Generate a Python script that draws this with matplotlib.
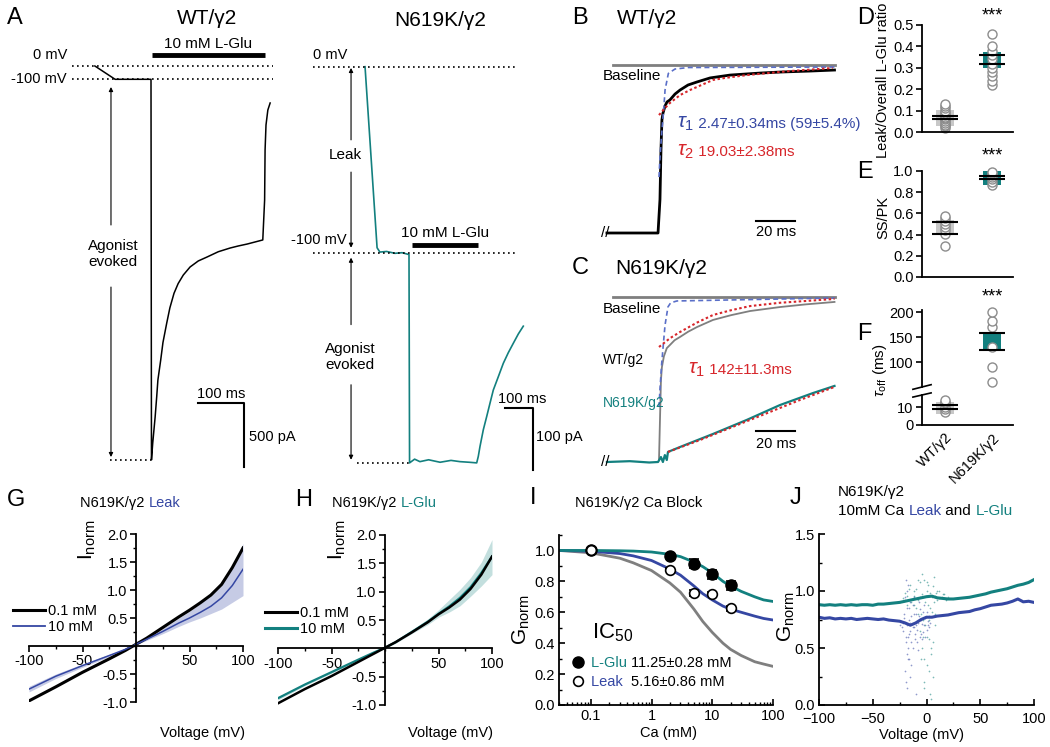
import matplotlib
matplotlib.use('Agg')
import matplotlib.pyplot as plt
from matplotlib.lines import Line2D

plt.rcParams['font.family'] = ['Liberation Sans', 'DejaVu Sans']
plt.rcParams['mathtext.fontset'] = 'custom'
plt.rcParams['mathtext.rm'] = 'Liberation Sans'
plt.rcParams['mathtext.it'] = 'Liberation Sans:italic'
plt.rcParams['mathtext.bf'] = 'Liberation Sans:bold'
plt.rcParams['axes.linewidth'] = 1.3

TEAL = '#13807f'
BLUE = '#3547a3'
RED = '#d7262b'
GBOX = '#c8c8c8'
GLINE = '#7f7f7f'

# ---------------- data ----------------
# A: WT/g2 trace (ms, pA)
wt_t = [-122, -78, 0, 1, 3.7, 9, 12.4, 15, 21.1, 26, 34.1, 41, 50, 59, 70.2, 85, 102.8, 122, 146.3,
        172, 189.8, 209, 226, 243, 247, 248, 250, 254, 259]
wt_i = [0, -104, -104, -3078, -2948, -2742, -2584, -2453, -2297, -2160, -2010, -1890, -1776, -1700,
        -1633, -1570, -1523, -1492, -1451, -1422, -1406, -1391, -1375, -1359, -1047, -656, -461, -344, -289]
wt_levels = [0, -104]
wt_peak = -3078
# A: N619K/g2 trace (ms, pA)
mut_t = [-157, -114, -104, -80, -50, -25, 0, 2, 20, 39, 70, 111, 150, 182, 215, 241.8, 247.5, 253.6,
         265.4, 277.5, 289.3, 301.1, 319, 336.8, 354.6, 372.5, 390.4, 408.2]
mut_i = [0, -292, -299, -298, -301, -300, -303, -639, -633, -637, -634, -638, -635, -637, -638, -639,
         -628.5, -612.4, -585.6, -564.2, -542.7, -521.5, -500, -478.4, -461.3, -446.1, -431.1, -418.5]
mut_levels = [0, -300]
mut_peak = -639

# B: WT/g2 normalized deactivation (ms, norm)
b_t = [-26.7, -0.5, 0.5, 1.0, 1.5, 2.05, 3.1, 4.1, 5.6, 8.2, 10.8, 14.9, 19.5, 26.2, 36.4, 51.8, 62, 77.4, 90]
b_i = [-1.0, -1.0, -0.80, -0.51, -0.327, -0.286, -0.244, -0.220, -0.208, -0.173, -0.149, -0.119,
       -0.101, -0.077, -0.060, -0.048, -0.042, -0.036, -0.030]
b_fit1_t = [0, 0.5, 1.4, 2.5, 3.1, 4.8, 8.2, 15, 90]
b_fit1_i = [-0.667, -0.55, -0.405, -0.25, -0.149, -0.05, -0.024, -0.015, -0.012]
b_fit2_t = [0, 3.1, 5.6, 10.8, 15.9, 27.7, 33.8, 45, 67.2, 89]
b_fit2_i = [-0.298, -0.256, -0.226, -0.179, -0.149, -0.089, -0.077, -0.060, -0.036, -0.018]
base_t = [-23.6, 90]

# C: N619K/g2 vs WT
c_wt_t = [0, 0.5, 1.0, 1.5, 2.5, 4, 5.6, 8, 10.8, 15, 19.5, 27.7, 37, 46.7, 62, 75, 90]
c_wt_i = [-0.988, -0.745, -0.503, -0.424, -0.36, -0.31, -0.291, -0.262, -0.242, -0.21, -0.182,
          -0.139, -0.11, -0.085, -0.061, -0.045, -0.030]
c_fit1_t = [0, 0.5, 1.4, 2.5, 3.1, 4.6, 6, 9.2, 90]
c_fit1_i = [-0.667, -0.56, -0.40, -0.25, -0.17, -0.06, -0.035, -0.024, -0.006]
c_fit2_t = [0, 5.6, 10.8, 19.5, 27.7, 37, 46.7, 62, 90]
c_fit2_i = [-0.303, -0.25, -0.212, -0.155, -0.109, -0.08, -0.055, -0.035, -0.012]
c_mut_t = [-26.7, -15, -5, -0.5, 1.0, 2.0, 3.0, 4.0, 4.6, 10.8, 27.7, 45, 62, 79, 90]
c_mut_i = [-1.0, -0.995, -1.003, -1.0, -0.97, -1.0, -0.958, -0.988, -0.939, -0.909, -0.830, -0.745,
           -0.655, -0.582, -0.539]
c_mfit_t = [4.6, 21, 46.7, 72.3, 90]
c_mfit_i = [-0.939, -0.867, -0.745, -0.624, -0.545]

# D, E, F
groups = ['WT/γ2', 'N619K/γ2']
D_wt = [0.02, 0.03, 0.035, 0.04, 0.05, 0.06, 0.065, 0.07, 0.08, 0.09, 0.10, 0.11, 0.12, 0.13]
D_mut = [0.22, 0.24, 0.26, 0.28, 0.30, 0.32, 0.34, 0.36, 0.38, 0.40, 0.46]
D_box = [(0.03, 0.105), (0.30, 0.375)]
D_sem = [(0.06, 0.075), (0.32, 0.36)]
E_wt = [0.29, 0.41, 0.44, 0.47, 0.50, 0.53, 0.56, 0.58]
E_mut = [0.87, 0.90, 0.92, 0.94, 0.96, 0.98, 0.99]
E_box = [(0.40, 0.54), (0.87, 1.0)]
E_sem = [(0.41, 0.515), (0.92, 0.95)]
F_wt = [7, 9, 10, 12, 13, 14]
F_mut = [60, 90, 130, 170, 182, 200]
F_box = [(6, 13), (125, 158)]
F_sem = [(9, 11), (125, 158)]

# G, H: I-V
iv_v = [-100, -75, -50, -25, -10, 0, 10, 25, 40, 50, 60, 70, 80, 90, 100]
g_low = [-0.98, -0.73, -0.47, -0.23, -0.08, 0.03, 0.14, 0.33, 0.52, 0.64, 0.77, 0.91, 1.10, 1.40, 1.75]
g_high = [-0.77, -0.54, -0.35, -0.17, -0.06, 0.03, 0.12, 0.26, 0.41, 0.50, 0.60, 0.71, 0.86, 1.08, 1.37]
g_high_up = [-0.72, -0.50, -0.32, -0.15, -0.05, 0.04, 0.14, 0.31, 0.50, 0.62, 0.76, 0.92, 1.13, 1.45, 1.83]
g_high_dn = [-0.82, -0.58, -0.38, -0.19, -0.07, 0.02, 0.10, 0.22, 0.35, 0.43, 0.50, 0.58, 0.66, 0.78, 0.90]
h_low = [-0.97, -0.72, -0.49, -0.24, -0.09, 0.01, 0.11, 0.28, 0.46, 0.60, 0.72, 0.86, 1.05, 1.30, 1.62]
h_high = [-0.88, -0.64, -0.42, -0.20, -0.07, 0.01, 0.11, 0.29, 0.47, 0.61, 0.74, 0.89, 1.08, 1.33, 1.62]
h_high_up = [-0.85, -0.62, -0.40, -0.19, -0.06, 0.02, 0.13, 0.32, 0.52, 0.68, 0.86, 1.04, 1.25, 1.52, 1.92]
h_high_dn = [-0.91, -0.66, -0.44, -0.21, -0.08, 0.00, 0.09, 0.26, 0.42, 0.55, 0.64, 0.75, 0.92, 1.10, 1.30]

# I: Ca block
ca = [0.1, 2, 5, 10, 20]
glu = [1.0, 0.965, 0.915, 0.845, 0.775]
glu_err = [0.0, 0.01, 0.03, 0.03, 0.03]
leak = [1.0, 0.875, 0.725, 0.72, 0.625]
leak_err = [0.0, 0.01, 0.02, 0.01, 0.015]
ca_fit = [0.03, 0.1, 0.3, 0.5, 1, 2, 3, 5, 7, 10, 15, 20, 30, 50, 70, 100]
fit_glu = [1.0, 1.0, 0.998, 0.996, 0.99, 0.975, 0.96, 0.925, 0.895, 0.855, 0.80, 0.77, 0.735, 0.70, 0.68, 0.67]
fit_leak = [1.0, 0.995, 0.98, 0.965, 0.935, 0.88, 0.84, 0.77, 0.72, 0.68, 0.64, 0.62, 0.60, 0.575, 0.56, 0.55]
fit_wt = [1.0, 0.985, 0.95, 0.92, 0.87, 0.79, 0.73, 0.62, 0.54, 0.47, 0.40, 0.36, 0.32, 0.28, 0.265, 0.25]

# J: G-V
j_v = [-100, -95, -90, -85, -80, -75, -70, -65, -60, -55, -50, -45, -40, -35, -30, -25, -20, -15, -10, -5,
       0, 5, 10, 15, 20, 25, 30, 35, 40, 45, 50, 55, 60, 65, 70, 75, 80, 85, 90, 95, 100]
j_leak = [0.77, 0.76, 0.765, 0.755, 0.76, 0.755, 0.76, 0.75, 0.755, 0.76, 0.755, 0.75, 0.755, 0.745, 0.74,
          0.735, 0.72, 0.70, 0.72, 0.75, 0.77, 0.77, 0.78, 0.785, 0.79, 0.80, 0.81, 0.815, 0.82, 0.835,
          0.845, 0.86, 0.875, 0.88, 0.885, 0.895, 0.91, 0.93, 0.905, 0.91, 0.90]
j_glu = [0.88, 0.875, 0.88, 0.875, 0.88, 0.875, 0.88, 0.875, 0.88, 0.88, 0.875, 0.885, 0.885, 0.89, 0.895,
         0.90, 0.91, 0.92, 0.93, 0.94, 0.95, 0.955, 0.94, 0.935, 0.93, 0.93, 0.935, 0.94, 0.945, 0.955,
         0.965, 0.975, 0.99, 1.0, 1.01, 1.02, 1.035, 1.05, 1.06, 1.075, 1.10]
js_leak_v = [-22, -21, -20, -20, -19, -19, -18, -18, -18, -17, -17, -16, -16, -15, -15, -14, -13, -12, -12, -11,
             -10, -10, -9, -8, -7, -6, -5, -4, -3, -2, -1, 0, 1, 2, 3, -25, -24, -23, -22, -21,
             -20, -19, -18, -17, -16, -15, -14, -13, -12, -11, -10, -9, -8, -7, -6, -5, -4, -3, -2, -1,
             0, 1, 2, -19, -18, -17, -16, -15, -14, -13]
js_leak_g = [0.65, 0.80, 0.30, 0.95, 0.55, 1.10, 0.15, 0.45, 0.70, 0.60, 1.05, 0.40, 0.85, 0.25, 0.65, 0.78,
             0.50, 0.95, 0.68, 0.62, 0.10, 0.80, 0.55, 0.72, 0.90, 0.60, 0.75, 0.58, 0.82, 0.70, 0.76, 0.66,
             0.74, 0.78, 0.72, 0.70, 0.74, 0.68, 0.72, 0.76,
             0.72, 0.60, 0.85, 0.50, 0.75, 0.90, 0.35, 0.68, 0.80, 0.58, 0.70, 0.66, 0.48, 0.78, 0.84, 0.62,
             0.71, 0.64, 0.88, 0.60, 0.82, 0.70, 0.68, 0.20, 1.00, 0.40, 0.62, 0.72, 0.55, 0.88]
js_glu_v = [-12, -10, -8, -6, -5, -4, -3, -2, -1, 0, 1, 2, 3, 4, 5, 6, 7, 8, 9, 10, 12, 14, 16, 18, -20, -18,
            -16, -14, -12, -8, -6, -4, -2, 0, 2, 4, 6, 8, 0, 3,
            -25, -22, -20, -18, -15, -12, -10, -8, -6, -5, -4, -3, -2, -1, 0, 1, 2, 3, 4, 5, 6, 7, 8, 10,
            12, 15, 18, 20, -2, 2]
js_glu_g = [1.00, 0.85, 1.10, 0.95, 0.40, 1.15, 0.75, 0.20, 0.90, 0.60, 1.05, 0.30, 0.85, 0.05, 0.95, 0.55,
            1.12, 0.70, 0.98, 0.92, 1.00, 0.95, 0.97, 0.93, 0.92, 0.96, 1.02, 0.90, 0.88, 0.80, 0.65, 0.50,
            0.15, 0.35, 0.00, 0.45, 0.25, 0.80, 1.08, 0.10,
            0.90, 0.94, 0.98, 0.88, 1.05, 0.96, 1.02, 0.92, 1.08, 0.80, 0.97, 0.60, 1.10, 0.70, 1.00, 0.88,
            0.75, 0.98, 0.50, 0.82, 1.04, 0.90, 0.96, 1.00, 0.94, 0.97, 0.92, 0.95, 0.40, 0.58]

# ---------------- figure ----------------
W, H = 1050, 747
fig = plt.figure(figsize=(W / 100, H / 100), dpi=100)
renderer = fig.canvas.get_renderer()


def box(l, t, r, b):
    return fig.add_axes([l / W, 1 - b / H, (r - l) / W, (b - t) / H])


def T(x, y, s, **kw):
    kw.setdefault('fontsize', 10.5)
    return fig.text(x / W, 1 - y / H, s, **kw)


def seg(x, y, parts, va='baseline'):
    cur = x
    for s, c, fs in parts:
        t = fig.text(cur / W, 1 - y / H, s, color=c, fontsize=fs, va=va, ha='left')
        cur += t.get_window_extent(renderer).width


def trace_axes(l, t, r, b, x0, y0, sx, sy):
    ax = box(l, t, r, b)
    ax.set_xlim((l - x0) / sx, (r - x0) / sx)
    ax.set_ylim(-(b - y0) / sy, -(t - y0) / sy)
    ax.axis('off')
    return ax


def arrow(ax, x, y0, y1):
    ax.annotate('', xy=(x, y1), xytext=(x, y0),
                arrowprops=dict(arrowstyle='-|>', lw=0.8, color='k', mutation_scale=6,
                                shrinkA=0, shrinkB=0))


DOT = (0, (1, 2))

# ---- panel A, WT ----
axA = trace_axes(50, 30, 290, 475, 151, 66, 0.46, 0.128)
axA.plot(wt_t, wt_i, color='k', lw=1.1)
axA.hlines(wt_levels, -172, 265, colors='k', linestyles=DOT, lw=1.2)
axA.hlines(wt_peak, -89, 0, colors='k', linestyles=DOT, lw=1.2)
axA.hlines(86, 2, 248, colors='k', lw=3.5)
axA.plot([102, 202, 202], [-2633, -2633, -3133], color='k', lw=1.5)
arrow(axA, -87, -1242, -164)
arrow(axA, -87, -1727, -3055)
T(113, 254, 'Agonist\nevoked', ha='center', va='center', fontsize=11, linespacing=1.15)
T(67, 55, '0 mV', ha='right', va='center')
T(67, 79, '-100 mV', ha='right', va='center')
T(208, 44, '10 mM L-Glu', ha='center', va='center', fontsize=11)
T(221, 394, '100 ms', ha='center', va='center')
T(249, 437, '500 pA', ha='left', va='center')
T(7, 18, 'A', fontsize=17, va='center')
T(207, 19, 'WT/γ2', fontsize=15, ha='center', va='center')

# ---- panel A, N619K ----
axN = trace_axes(280, 30, 560, 475, 409, 66.7, 0.28, 0.62)
axN.plot(mut_t, mut_i, color=TEAL, lw=1.2)
axN.hlines(mut_levels, -343, 389, colors='k', linestyles=DOT, lw=1.2)
axN.hlines(mut_peak, -186, 0, colors='k', linestyles=DOT, lw=1.2)
axN.hlines(-288, 11, 246, colors='k', lw=3.5)
axN.plot([343, 443, 443], [-551, -551, -651], color='k', lw=1.5)
arrow(axN, -207, -118, -2)
arrow(axN, -207, -170, -292)
arrow(axN, -207, -416, -308)
arrow(axN, -207, -513, -634)
T(345, 155, 'Leak', ha='center', va='center', fontsize=11)
T(350, 357, 'Agonist\nevoked', ha='center', va='center', fontsize=11, linespacing=1.15)
T(347, 55, '0 mV', ha='right', va='center')
T(347, 240, '-100 mV', ha='right', va='center')
T(445, 233, '10 mM L-Glu', ha='center', va='center', fontsize=11)
T(522, 399, '100 ms', ha='center', va='center')
T(536, 437, '100 pA', ha='left', va='center')
T(440, 20, 'N619K/γ2', fontsize=15, ha='center', va='center')

# ---- panel B ----
axB = trace_axes(595, 40, 850, 245, 659, 65, 1.95, 168)
axB.plot(base_t, [0, 0], color=GLINE, lw=2)
axB.plot(b_t, b_i, color='k', lw=2)
axB.plot(b_fit1_t, b_fit1_i, color='#5a6fc8', lw=1.2, ls=(0, (3, 2)))
axB.plot(b_fit2_t, b_fit2_i, color=RED, lw=1.5, ls=(0, (1.2, 1.2)))
axB.plot([49.7, 69.7], [-0.929, -0.929], color='k', lw=1.5)
T(776, 232, '20 ms', ha='center', va='center')
T(603, 76, 'Baseline', ha='left', va='center', fontsize=11)
T(601, 233, '//', ha='left', va='center', fontsize=11)
seg(677, 128, [(r'$\tau_1$', BLUE, 15), (' 2.47±0.34ms (59±5.4%)', BLUE, 11)])
seg(677, 156, [(r'$\tau_2$', RED, 15), (' 19.03±2.38ms', RED, 11)])
T(572, 18, 'B', fontsize=17, va='center')
T(617, 18, 'WT/γ2', fontsize=15, ha='left', va='center')

# ---- panel C ----
axC = trace_axes(595, 280, 850, 470, 659, 297, 1.95, 165)
axC.plot(base_t, [0, 0], color=GLINE, lw=2)
axC.plot(c_wt_t, c_wt_i, color=GLINE, lw=1.3)
axC.plot(c_fit1_t, c_fit1_i, color='#5a6fc8', lw=1.2, ls=(0, (3, 2)))
axC.plot(c_fit2_t, c_fit2_i, color=RED, lw=1.5, ls=(0, (1.2, 1.2)))
axC.plot(c_mut_t, c_mut_i, color=TEAL, lw=1.6)
axC.plot(c_mfit_t, c_mfit_i, color=RED, lw=1.5, ls=(0, (1.2, 1.2)))
axC.plot([49.7, 69.7], [-0.812, -0.812], color='k', lw=1.5)
T(776, 444, '20 ms', ha='center', va='center')
T(603, 309, 'Baseline', ha='left', va='center', fontsize=11)
T(603, 360, 'WT/g2', ha='left', va='center', fontsize=10)
T(603, 403, 'N619K/g2', ha='left', va='center', fontsize=10, color=TEAL)
T(601, 462, '//', ha='left', va='center', fontsize=11)
seg(688, 374, [(r'$\tau_1$', RED, 15), (' 142±11.3ms', RED, 11)])
T(572, 268, 'C', fontsize=17, va='center')
T(615, 269, 'N619K/γ2', fontsize=15, ha='left', va='center')


# ---- panels D, E, F ----
def dots(ax, sets, boxes, sems):
    cols = [GBOX, TEAL]
    for i, vals in enumerate(sets):
        if vals is None:
            continue
        lo, hi = boxes[i]
        ax.bar(i, hi - lo, bottom=lo, width=0.4, color=cols[i], zorder=1)
        ax.plot([i] * len(vals), vals, 'o', mfc='white', mec='#8c8c8c', ms=6.5, mew=1,
                zorder=2, clip_on=False)
        ax.hlines(sems[i], i - 0.27, i + 0.27, colors='k', lw=1.5, zorder=3)


def style_dot_ax(ax, ylim, yticks, labels):
    ax.set_xlim(-0.49, 1.45)
    ax.set_ylim(*ylim)
    ax.set_yticks(yticks)
    ax.set_yticklabels(labels)
    ax.spines['top'].set_visible(False)
    ax.spines['right'].set_visible(False)
    ax.set_xticks([])
    ax.tick_params(axis='y', direction='out', length=4, width=1.2, labelsize=10.5, pad=2)


axD = box(922, 25, 1013, 132)
dots(axD, [D_wt, D_mut], D_box, D_sem)
style_dot_ax(axD, (0, 0.5), [0, 0.1, 0.2, 0.3, 0.4, 0.5], ['0.0', '0.1', '0.2', '0.3', '0.4', '0.5'])
T(883, 80, 'Leak/Overall L-Glu ratio', rotation=90, ha='center', va='center', fontsize=10.5)
T(992, 16, '***', ha='center', va='center', fontsize=13)
T(857, 18, 'D', fontsize=17, va='center')

axE = box(922, 171, 1013, 277)
dots(axE, [E_wt, E_mut], E_box, E_sem)
style_dot_ax(axE, (0, 1.0), [0, 0.2, 0.4, 0.6, 0.8, 1.0], ['0.0', '0.2', '0.4', '0.6', '0.8', '1.0'])
T(883, 217, 'SS/PK', rotation=90, ha='center', va='center', fontsize=10.5)
T(992, 156, '***', ha='center', va='center', fontsize=13)
T(857, 172, 'E', fontsize=17, va='center')

axFu = box(922, 310, 1013, 387)
dots(axFu, [None, F_mut], F_box, F_sem)
style_dot_ax(axFu, (50, 204), [100, 150, 200], ['100', '150', '200'])
axFu.spines['bottom'].set_visible(False)
axFl = box(922, 395, 1013, 425)
dots(axFl, [F_wt, None], F_box, F_sem)
style_dot_ax(axFl, (0, 16.7), [0, 10], ['0', '10'])
axFl.set_xticks([0, 1])
axFl.set_xticklabels(groups, rotation=45, ha='right', rotation_mode='anchor', fontsize=10.5)
axFl.tick_params(axis='x', length=0, pad=4)
axFu.plot([-0.1, 0.1], [-0.03, 0.03], transform=axFu.transAxes, color='k', lw=1.2, clip_on=False)
axFl.plot([-0.1, 0.1], [0.93, 1.07], transform=axFl.transAxes, color='k', lw=1.2, clip_on=False)
T(880, 370, r'$\tau_{\rm off}$ (ms)', rotation=90, ha='center', va='center', fontsize=11)
T(992, 297, '***', ha='center', va='center', fontsize=13)
T(857, 334, 'F', fontsize=17, va='center')


# ---- panels G, H ----
def iv_axes(l, t, r, b):
    ax = box(l, t, r, b)
    ax.set_xlim(-100, 100)
    ax.set_ylim(-1, 2)
    ax.spines['left'].set_position(('data', 0))
    ax.spines['bottom'].set_position(('data', 0))
    ax.spines['top'].set_visible(False)
    ax.spines['right'].set_visible(False)
    ax.set_xticks([-100, -50, 50, 100])
    ax.set_xticklabels(['-100', '-50', '50', '100'])
    ax.set_xticks([-75, -25, 0, 25, 75], minor=True)
    ax.set_yticks([-1, -0.5, 0.5, 1, 1.5, 2])
    ax.set_yticklabels(['-1.0', '-0.5', '0.5', '1.0', '1.5', '2.0'])
    ax.set_yticks([-0.75, -0.25, 0, 0.25, 0.75, 1.25, 1.75], minor=True)
    ax.tick_params(which='major', direction='out', length=4, width=1.2, labelsize=10.5, pad=2)
    ax.tick_params(which='minor', direction='out', length=2.5, width=1)
    return ax


axG = iv_axes(29, 534, 243, 702)
axG.fill_between(iv_v, g_high_dn, g_high_up, color=BLUE, alpha=0.28, lw=0)
axG.plot(iv_v, g_low, color='k', lw=2.2)
axG.plot(iv_v, g_high, color=BLUE, lw=1.1)
axG.legend([Line2D([], [], color='k', lw=2.2), Line2D([], [], color=BLUE, lw=1.3)],
           ['0.1 mM', '10 mM'], loc='upper left', bbox_to_anchor=(13 / W, 1 - 604 / H),
           bbox_transform=fig.transFigure, frameon=False, handlelength=2.2, handletextpad=0.2,
           labelspacing=0.15, fontsize=10.5, borderpad=0, borderaxespad=0)
T(87, 540, r'I$_{\rm norm}$', rotation=90, ha='center', va='center', fontsize=15)
T(202, 733, 'Voltage (mV)', ha='center', va='center')
T(7, 500, 'G', fontsize=17, va='center')
seg(80, 507, [('N619K/γ2 ', 'k', 10.5), ('Leak', BLUE, 10.5)])

axH = iv_axes(278, 535, 492, 705)
axH.fill_between(iv_v, h_high_dn, h_high_up, color=TEAL, alpha=0.25, lw=0)
axH.plot(iv_v, h_high, color=TEAL, lw=1.6)
axH.plot(iv_v, h_low, color='k', lw=1.8)
axH.legend([Line2D([], [], color='k', lw=2.2), Line2D([], [], color=TEAL, lw=2.2)],
           ['0.1 mM', '10 mM'], loc='upper left', bbox_to_anchor=(265 / W, 1 - 606 / H),
           bbox_transform=fig.transFigure, frameon=False, handlelength=2.2, handletextpad=0.2,
           labelspacing=0.15, fontsize=10.5, borderpad=0, borderaxespad=0)
T(337, 540, r'I$_{\rm norm}$', rotation=90, ha='center', va='center', fontsize=15)
T(451, 733, 'Voltage (mV)', ha='center', va='center')
T(295, 500, 'H', fontsize=17, va='center')
seg(332, 507, [('N619K/γ2 ', 'k', 10.5), ('L-Glu', TEAL, 10.5)])

# ---- panel I ----
axI = box(559, 535, 773, 705)
axI.set_xscale('log')
axI.set_xlim(0.03, 100)
axI.set_ylim(0, 1.1)
axI.spines['top'].set_visible(False)
axI.spines['right'].set_visible(False)
axI.plot(ca_fit, fit_wt, color=GLINE, lw=2)
axI.plot(ca_fit, fit_leak, color=BLUE, lw=2)
axI.plot(ca_fit, fit_glu, color=TEAL, lw=2)
axI.errorbar(ca, glu, yerr=glu_err, fmt='o', color='k', ms=8, capsize=3.5, elinewidth=1.2,
             capthick=1.2, zorder=4)
axI.errorbar(ca, leak, yerr=leak_err, fmt='o', color='k', mfc='white', ms=7, mew=1.2,
             capsize=3.5, elinewidth=1.2, capthick=1.2, zorder=4)
axI.set_xticks([0.1, 1, 10, 100])
axI.set_xticklabels(['0.1', '1', '10', '100'])
axI.set_yticks([0, 0.2, 0.4, 0.6, 0.8, 1.0])
axI.set_yticklabels(['0.0', '0.2', '0.4', '0.6', '0.8', '1.0'])
axI.set_yticks([0.1, 0.3, 0.5, 0.7, 0.9, 1.1], minor=True)
axI.tick_params(which='major', direction='in', length=4, width=1.2, labelsize=10.5, pad=3)
axI.tick_params(which='minor', direction='in', length=2.5, width=1)
T(592, 633, r'IC$_{50}$', fontsize=16, ha='left', va='center')
axI.plot([578 / W], [1 - 662 / H], 'o', color='k', ms=8, transform=fig.transFigure, clip_on=False)
axI.plot([578 / W], [1 - 681 / H], 'o', color='k', mfc='white', ms=7, mew=1.2,
         transform=fig.transFigure, clip_on=False)
seg(591, 667, [('L-Glu ', TEAL, 10.5), ('11.25±0.28 mM', 'k', 10.5)])
seg(591, 686, [('Leak  ', BLUE, 10.5), ('5.16±0.86 mM', 'k', 10.5)])
T(521, 620, r'G$_{\rm norm}$', rotation=90, ha='center', va='center', fontsize=15)
T(669, 733, 'Ca (mM)', ha='center', va='center')
T(530, 498, 'I', fontsize=17, va='center')
T(575, 503, 'N619K/γ2 Ca Block', fontsize=10.5, ha='left', va='center')

# ---- panel J ----
axJ = box(819, 534, 1034, 705)
axJ.set_xlim(-100, 100)
axJ.set_ylim(0, 1.5)
axJ.spines['top'].set_visible(False)
axJ.spines['right'].set_visible(False)
axJ.scatter(js_leak_v, js_leak_g, s=1.5, color=BLUE, alpha=0.55, lw=0)
axJ.scatter(js_glu_v, js_glu_g, s=1.5, color=TEAL, alpha=0.55, lw=0)
axJ.plot(j_v, j_glu, color=TEAL, lw=2.2)
axJ.plot(j_v, j_leak, color=BLUE, lw=2.2)
axJ.set_xticks([-100, -50, 0, 50, 100])
axJ.set_xticks([-75, -25, 25, 75], minor=True)
axJ.set_yticks([0, 0.5, 1.0, 1.5])
axJ.set_yticklabels(['0.0', '0.5', '1.0', '1.5'])
axJ.set_yticks([0.25, 0.75, 1.25], minor=True)
axJ.tick_params(which='major', direction='in', length=4, width=1.2, labelsize=10.5, pad=3)
axJ.tick_params(axis='x', which='major', pad=5)
axJ.tick_params(which='minor', direction='in', length=2.5, width=1)
T(786, 617, r'G$_{\rm norm}$', rotation=90, ha='center', va='center', fontsize=15)
T(922, 735, 'Voltage (mV)', ha='center', va='center')
T(790, 498, 'J', fontsize=17, va='center')
T(838, 492, 'N619K/γ2', fontsize=11, ha='left', va='center')
seg(838, 515, [('10mM Ca ', 'k', 11), ('Leak', BLUE, 11), (' and ', 'k', 11), ('L-Glu', TEAL, 11)])

fig.savefig('out.png', dpi=100)
